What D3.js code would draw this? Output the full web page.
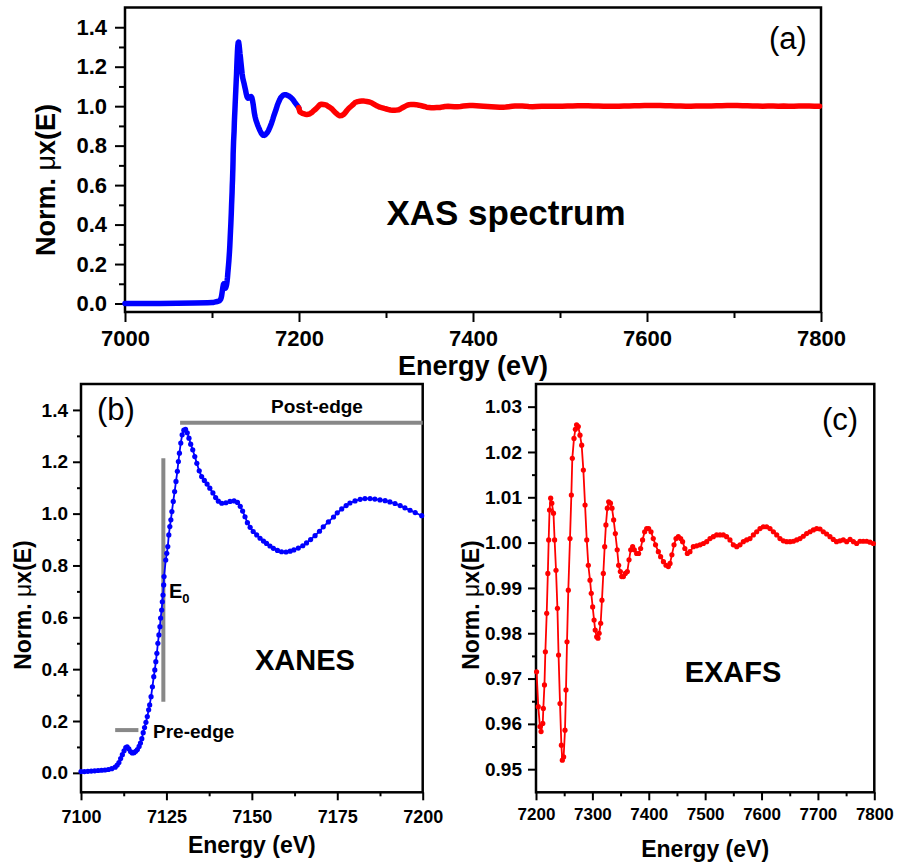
<!DOCTYPE html>
<html>
<head>
<meta charset="utf-8">
<script src="https://cdn.jsdelivr.net/npm/d3@7"></script>
<style>
body { margin: 0; background: #fff; }
text { font-family: "Liberation Sans", Arial, sans-serif; fill: #000; }
</style>
</head>
<body>
<script>
// flat part before the edge (only shown in panel a)
const baseEnergy = [7000, 7020, 7040, 7060, 7080, 7095];
const baseMu = [0.0, 0.0, 0.0, 0.001, 0.002, 0.004];

// XANES region 7100-7200 eV
const xanesEnergy = [7100, 7101, 7102, 7103, 7104, 7105, 7106, 7107, 7108, 7109, 7110, 7110.6, 7111.1, 7111.6, 7112.1, 7112.6, 7113.1, 7113.5, 7114.0, 7114.5,
    7115.0, 7115.5, 7116.0, 7116.5, 7117.0, 7117.4, 7117.8, 7118.2, 7118.6, 7119.0, 7119.4, 7119.8, 7120.1, 7120.5, 7120.9, 7121.3, 7121.6, 7121.9, 7122.2, 7122.5,
    7122.8, 7123.1, 7123.3, 7123.6, 7123.8, 7124.0, 7124.2, 7124.3, 7124.8, 7125.1, 7125.4, 7125.7, 7126.0, 7126.3, 7126.6, 7127.0, 7127.4, 7127.8, 7128.2, 7128.5,
    7128.8, 7129.2, 7129.6, 7130.1, 7130.6, 7131.1, 7131.6, 7132.1, 7132.7, 7133.3, 7133.9, 7134.6, 7135.3, 7136.1, 7136.9, 7137.7, 7138.6, 7139.4, 7140.2, 7141.2,
    7142.4, 7143.6, 7144.8, 7145.8, 7146.6, 7147.3, 7148.0, 7148.7, 7149.5, 7150.4, 7151.4, 7152.4, 7153.4, 7154.3, 7155.3, 7156.3, 7157.5, 7158.7, 7160.0, 7161.2,
    7162.3, 7163.6, 7164.9, 7166.0, 7167.2, 7168.5, 7169.8, 7170.9, 7172.4, 7173.9, 7175.0, 7176.3, 7177.6, 7178.7, 7180.2, 7181.7, 7183.1, 7184.6, 7186.0, 7187.5,
    7189.0, 7190.4, 7191.9, 7193.4, 7194.8, 7196.3, 7197.8, 7199.7];
const xanesMu = [0.005, 0.005, 0.006, 0.007, 0.008, 0.009, 0.010, 0.011, 0.013, 0.016, 0.022, 0.030, 0.040, 0.055, 0.070, 0.085, 0.097, 0.100, 0.093, 0.082,
    0.077, 0.078, 0.083, 0.090, 0.102, 0.115, 0.132, 0.155, 0.175, 0.195, 0.217, 0.243, 0.262, 0.294, 0.332, 0.371, 0.397, 0.429, 0.461, 0.500,
    0.532, 0.564, 0.597, 0.628, 0.660, 0.686, 0.725, 0.757, 0.821, 0.847, 0.873, 0.918, 0.950, 0.976, 1.008, 1.047, 1.085, 1.124, 1.163, 1.201,
    1.233, 1.272, 1.304, 1.322, 1.325, 1.312, 1.291, 1.268, 1.246, 1.220, 1.194, 1.165, 1.143, 1.128, 1.114, 1.098, 1.080, 1.062, 1.048, 1.040,
    1.042, 1.047, 1.049, 1.043, 1.028, 1.010, 0.988, 0.965, 0.947, 0.931, 0.918, 0.905, 0.894, 0.885, 0.875, 0.866, 0.858, 0.853, 0.852, 0.855,
    0.860, 0.867, 0.876, 0.887, 0.900, 0.915, 0.932, 0.949, 0.968, 0.987, 1.003, 1.018, 1.031, 1.041, 1.049, 1.055, 1.058, 1.058, 1.056, 1.053,
    1.050, 1.045, 1.039, 1.031, 1.022, 1.013, 1.004, 0.992];

// EXAFS region 7200-7800 eV
const exafsEnergy = [7201, 7204, 7207, 7209, 7212, 7213, 7215, 7216.6, 7219, 7221, 7222.5, 7224, 7226, 7228, 7231, 7233, 7235.5, 7238, 7240, 7242.6,
    7245, 7246.7, 7249, 7251.4, 7253.2, 7255, 7257.3, 7260.3, 7262.7, 7264.4, 7267.4, 7269.8, 7272, 7275, 7278, 7281, 7284, 7287, 7290, 7292.8,
    7295.8, 7298, 7300.5, 7303, 7305, 7307.6, 7310, 7312, 7314.7, 7317, 7319.4, 7321.8, 7324, 7326.5, 7328.9, 7332, 7334.8, 7337.7, 7340.7, 7344,
    7346.6, 7349.6, 7352, 7355, 7358.4, 7362, 7365, 7368, 7371.4, 7374.4, 7378.5, 7382, 7385.6, 7389, 7392.7, 7396.3, 7399.8, 7404, 7408, 7412,
    7417, 7421, 7426, 7430.6, 7434.7, 7437.7, 7441, 7444.8, 7448.3, 7452.4, 7456.6, 7460, 7464, 7468.4, 7473, 7479, 7485, 7491, 7496.8, 7502.7,
    7508.6, 7514.5, 7520.4, 7526.3, 7532.2, 7538, 7544, 7550, 7556, 7561.8, 7567.7, 7573.6, 7579.5, 7585.5, 7591.4, 7597.3, 7603.2, 7609, 7615, 7621,
    7626.9, 7632.7, 7638.7, 7644.6, 7650.5, 7656.4, 7662.3, 7668.2, 7674, 7680, 7686, 7692, 7697.8, 7703.7, 7709.6, 7715.5, 7721.4, 7727.3, 7733, 7739,
    7745, 7751, 7757, 7763, 7768.7, 7774.6, 7780.5, 7786.5, 7792.4, 7798.3];
const exafsMu = [0.9715, 0.9638, 0.9594, 0.9583, 0.9601, 0.9634, 0.9686, 0.9759, 0.9844, 0.9932, 1.0006, 1.0072, 1.0098, 1.0087, 1.0065, 1.0006, 0.9939, 0.9855, 0.9752, 0.9645,
    0.9553, 0.9520, 0.9527, 0.9586, 0.9675, 0.9781, 0.9895, 1.0009, 1.0105, 1.0186, 1.0230, 1.0250, 1.0260, 1.0256, 1.0237, 1.0215, 1.0160, 1.0083, 1.0006, 0.9950,
    0.9917, 0.9888, 0.9858, 0.9829, 0.9807, 0.9792, 0.9789, 0.9800, 0.9822, 0.9873, 0.9932, 0.9991, 1.0039, 1.0076, 1.0090, 1.0087, 1.0076, 1.0050, 1.0020, 0.9984,
    0.9950, 0.9936, 0.9925, 0.9925, 0.9932, 0.9936, 0.9962, 0.9984, 0.9991, 0.9984, 0.9976, 0.9976, 0.9987, 1.0006, 1.0024, 1.0031, 1.0031, 1.0024, 1.0009, 0.9995,
    0.9980, 0.9969, 0.9958, 0.9950, 0.9947, 0.9954, 0.9973, 0.9995, 1.0009, 1.0013, 1.0009, 1.0002, 0.9987, 0.9976, 0.9980, 0.9991, 0.9993, 0.9995, 0.9998, 1.0002,
    1.0009, 1.0013, 1.0017, 1.0017, 1.0017, 1.0013, 1.0006, 0.9995, 0.9991, 0.9995, 1.0002, 1.0006, 1.0009, 1.0017, 1.0024, 1.0031, 1.0035, 1.0035, 1.0031, 1.0024,
    1.0017, 1.0009, 1.0004, 1.0002, 1.0002, 1.0003, 1.0006, 1.0009, 1.0014, 1.0020, 1.0024, 1.0028, 1.0031, 1.0030, 1.0024, 1.0019, 1.0013, 1.0007, 1.0002, 1.0004,
    1.0006, 1.0002, 1.0007, 1.0002, 0.9998, 1.0003, 1.0003, 1.0003, 1.0001, 0.9998];

// tick values
const ticksA = { xMajor: d3.range(7000, 7801, 200), xMinor: d3.range(7100, 7800, 200), yMajor: d3.range(0, 1.41, 0.2), yMinor: d3.range(0.1, 1.5, 0.2) };
const ticksB = { xMajor: d3.range(7100, 7201, 25), xMinor: d3.range(7112.5, 7200, 25), yMajor: d3.range(0, 1.41, 0.2), yMinor: d3.range(0.1, 1.5, 0.2) };
const ticksC = { xMajor: d3.range(7200, 7801, 100), xMinor: d3.range(7250, 7800, 100), yMajor: d3.range(0.95, 1.0301, 0.01), yMinor: d3.range(0.955, 1.035, 0.01) };

// annotation positions in panel b (energy / mu)
const postEdge = { e0: 7129, e1: 7200, mu: 1.351 };
const edgeLine = { e: 7124.1, mu0: 0.274, mu1: 1.214 };
const preEdge = { e0: 7110, e1: 7116.8, mu: 0.165 };

const width = 901;
const height = 867;
const svg = d3.select('body').append('svg').attr('width', width).attr('height', height);

function drawPanel(o) {
    const g = svg.append('g');
    const x = d3.scaleLinear().domain(o.xDomain).range([o.left, o.right]);
    const y = d3.scaleLinear().domain(o.yDomain).range([o.bottom, o.top]);

    const style = sel => {
        sel.select('.domain').remove();
        sel.selectAll('line').attr('stroke', '#000').attr('stroke-width', 2);
        sel.selectAll('text').attr('fill', '#000')
            .style('font-size', o.tickFont + 'px').style('font-weight', 'bold')
            .style('font-family', '"Liberation Sans", Arial, sans-serif');
    };

    g.append('g').attr('transform', `translate(0,${o.bottom})`)
        .call(d3.axisBottom(x).tickValues(o.ticks.xMinor).tickSize(o.minor).tickFormat(''))
        .call(style);
    g.append('g').attr('transform', `translate(0,${o.bottom})`)
        .call(d3.axisBottom(x).tickValues(o.ticks.xMajor).tickSize(o.major).tickPadding(o.xPad).tickFormat(d3.format('d')))
        .call(style)
        .call(s => s.selectAll('text').style('font-size', o.xTickFont + 'px'));
    g.append('g').attr('transform', `translate(${o.left},0)`)
        .call(d3.axisLeft(y).tickValues(o.ticks.yMinor).tickSize(o.minor).tickFormat(''))
        .call(style);
    g.append('g').attr('transform', `translate(${o.left},0)`)
        .call(d3.axisLeft(y).tickValues(o.ticks.yMajor).tickSize(o.major).tickPadding(o.yPad).tickFormat(d3.format(o.yFormat)))
        .call(style);

    g.append('rect')
        .attr('x', o.left).attr('y', o.top)
        .attr('width', o.right - o.left).attr('height', o.bottom - o.top)
        .attr('fill', 'none').attr('stroke', '#000').attr('stroke-width', 2.5);

    // axis titles
    g.append('text')
        .attr('x', (o.left + o.right) / 2).attr('y', o.xTitleY)
        .attr('text-anchor', 'middle')
        .style('font-size', o.titleFont + 'px').style('font-weight', 'bold')
        .text('Energy (eV)');
    const yt = g.append('text')
        .attr('transform', `translate(${o.yTitleX},${o.yTitleY}) rotate(-90)`)
        .attr('text-anchor', 'middle')
        .style('font-size', o.titleFont + 'px').style('font-weight', 'bold');
    yt.append('tspan').text('Norm. ');
    yt.append('tspan').style('font-weight', 'normal').text('\u03bc');
    yt.append('tspan').text('x(E)');

    g.append('text')
        .attr('x', o.tagX).attr('y', o.tagY)
        .attr('text-anchor', 'middle')
        .style('font-size', '31px')
        .text(o.tag);

    return { g, x, y };
}

// (a) full spectrum
const a = drawPanel({
    left: 125, right: 821, top: 7.5, bottom: 312,
    xDomain: [7000, 7800], yDomain: [-0.043, 1.5], ticks: ticksA,
    major: 10, minor: 6, xPad: 8, yPad: 8, yFormat: '.1f',
    tickFont: 22, xTickFont: 22, titleFont: 27,
    xTitleY: 375, yTitleX: 55, yTitleY: 180,
    tag: '(a)', tagX: 788, tagY: 49
});
const lineA = d3.line().x(d => a.x(d[0])).y(d => a.y(d[1]));
const bluePart = d3.zip(baseEnergy.concat(xanesEnergy), baseMu.concat(xanesMu));
const redPart = d3.zip([7199.7].concat(exafsEnergy), [0.992].concat(exafsMu));
a.g.append('path').datum(bluePart).attr('d', lineA)
    .attr('fill', 'none').attr('stroke', '#0000ff').attr('stroke-width', 5.5)
    .attr('stroke-linejoin', 'round').attr('stroke-linecap', 'round');
a.g.append('path').datum(redPart).attr('d', lineA)
    .attr('fill', 'none').attr('stroke', '#ff0000').attr('stroke-width', 5.5)
    .attr('stroke-linejoin', 'round').attr('stroke-linecap', 'round');
a.g.append('text').attr('x', 506).attr('y', 225).attr('text-anchor', 'middle')
    .style('font-size', '35px').style('font-weight', 'bold').text('XAS spectrum');

// (b) XANES
const b = drawPanel({
    left: 81, right: 422.7, top: 384, bottom: 792.3,
    xDomain: [7100, 7200], yDomain: [-0.075, 1.5], ticks: ticksB,
    major: 8, minor: 4, xPad: 10, yPad: 5, yFormat: '.1f',
    tickFont: 19, xTickFont: 18, titleFont: 23,
    xTitleY: 853, yTitleX: 31, yTitleY: 605,
    tag: '(b)', tagX: 116, tagY: 420
});
const xanes = d3.zip(xanesEnergy, xanesMu);
const gray = '#888888';
b.g.append('line')
    .attr('x1', b.x(postEdge.e0)).attr('x2', b.x(postEdge.e1))
    .attr('y1', b.y(postEdge.mu)).attr('y2', b.y(postEdge.mu))
    .attr('stroke', gray).attr('stroke-width', 4);
b.g.append('line')
    .attr('x1', b.x(edgeLine.e)).attr('x2', b.x(edgeLine.e))
    .attr('y1', b.y(edgeLine.mu0)).attr('y2', b.y(edgeLine.mu1))
    .attr('stroke', gray).attr('stroke-width', 4);
b.g.append('line')
    .attr('x1', b.x(preEdge.e0)).attr('x2', b.x(preEdge.e1))
    .attr('y1', b.y(preEdge.mu)).attr('y2', b.y(preEdge.mu))
    .attr('stroke', gray).attr('stroke-width', 4);
b.g.append('path').datum(xanes)
    .attr('d', d3.line().x(d => b.x(d[0])).y(d => b.y(d[1])))
    .attr('fill', 'none').attr('stroke', '#0000ff').attr('stroke-width', 1.8);
b.g.selectAll('circle').data(xanes).enter().append('circle')
    .attr('cx', d => b.x(d[0])).attr('cy', d => b.y(d[1])).attr('r', 2.6)
    .attr('fill', '#0000ff');
b.g.append('text').attr('x', 317).attr('y', 413).attr('text-anchor', 'middle')
    .style('font-size', '19px').style('font-weight', 'bold').text('Post-edge');
b.g.append('text').attr('x', 153).attr('y', 738)
    .style('font-size', '19px').style('font-weight', 'bold').text('Pre-edge');
const e0 = b.g.append('text').attr('x', 169).attr('y', 598)
    .style('font-size', '20px').style('font-weight', 'bold');
e0.append('tspan').text('E');
e0.append('tspan').attr('dy', 5).style('font-size', '13px').text('0');
b.g.append('text').attr('x', 305).attr('y', 670).attr('text-anchor', 'middle')
    .style('font-size', '29px').style('font-weight', 'bold').text('XANES');

// (c) EXAFS
const c = drawPanel({
    left: 536, right: 874.3, top: 384, bottom: 792.3,
    xDomain: [7200, 7800], yDomain: [0.9449, 1.035], ticks: ticksC,
    major: 8, minor: 4, xPad: 8, yPad: 6, yFormat: '.2f',
    tickFont: 19, xTickFont: 17, titleFont: 23,
    xTitleY: 857, yTitleX: 479, yTitleY: 605,
    tag: '(c)', tagX: 840, tagY: 430
});
const exafs = d3.zip(exafsEnergy, exafsMu);
c.g.append('path').datum(exafs)
    .attr('d', d3.line().x(d => c.x(d[0])).y(d => c.y(d[1])))
    .attr('fill', 'none').attr('stroke', '#ff0000').attr('stroke-width', 1.8);
c.g.selectAll('circle').data(exafs).enter().append('circle')
    .attr('cx', d => c.x(d[0])).attr('cy', d => c.y(d[1])).attr('r', 2.6)
    .attr('fill', '#ff0000');
c.g.append('text').attr('x', 733).attr('y', 682).attr('text-anchor', 'middle')
    .style('font-size', '29px').style('font-weight', 'bold').text('EXAFS');
</script>
</body>
</html>
